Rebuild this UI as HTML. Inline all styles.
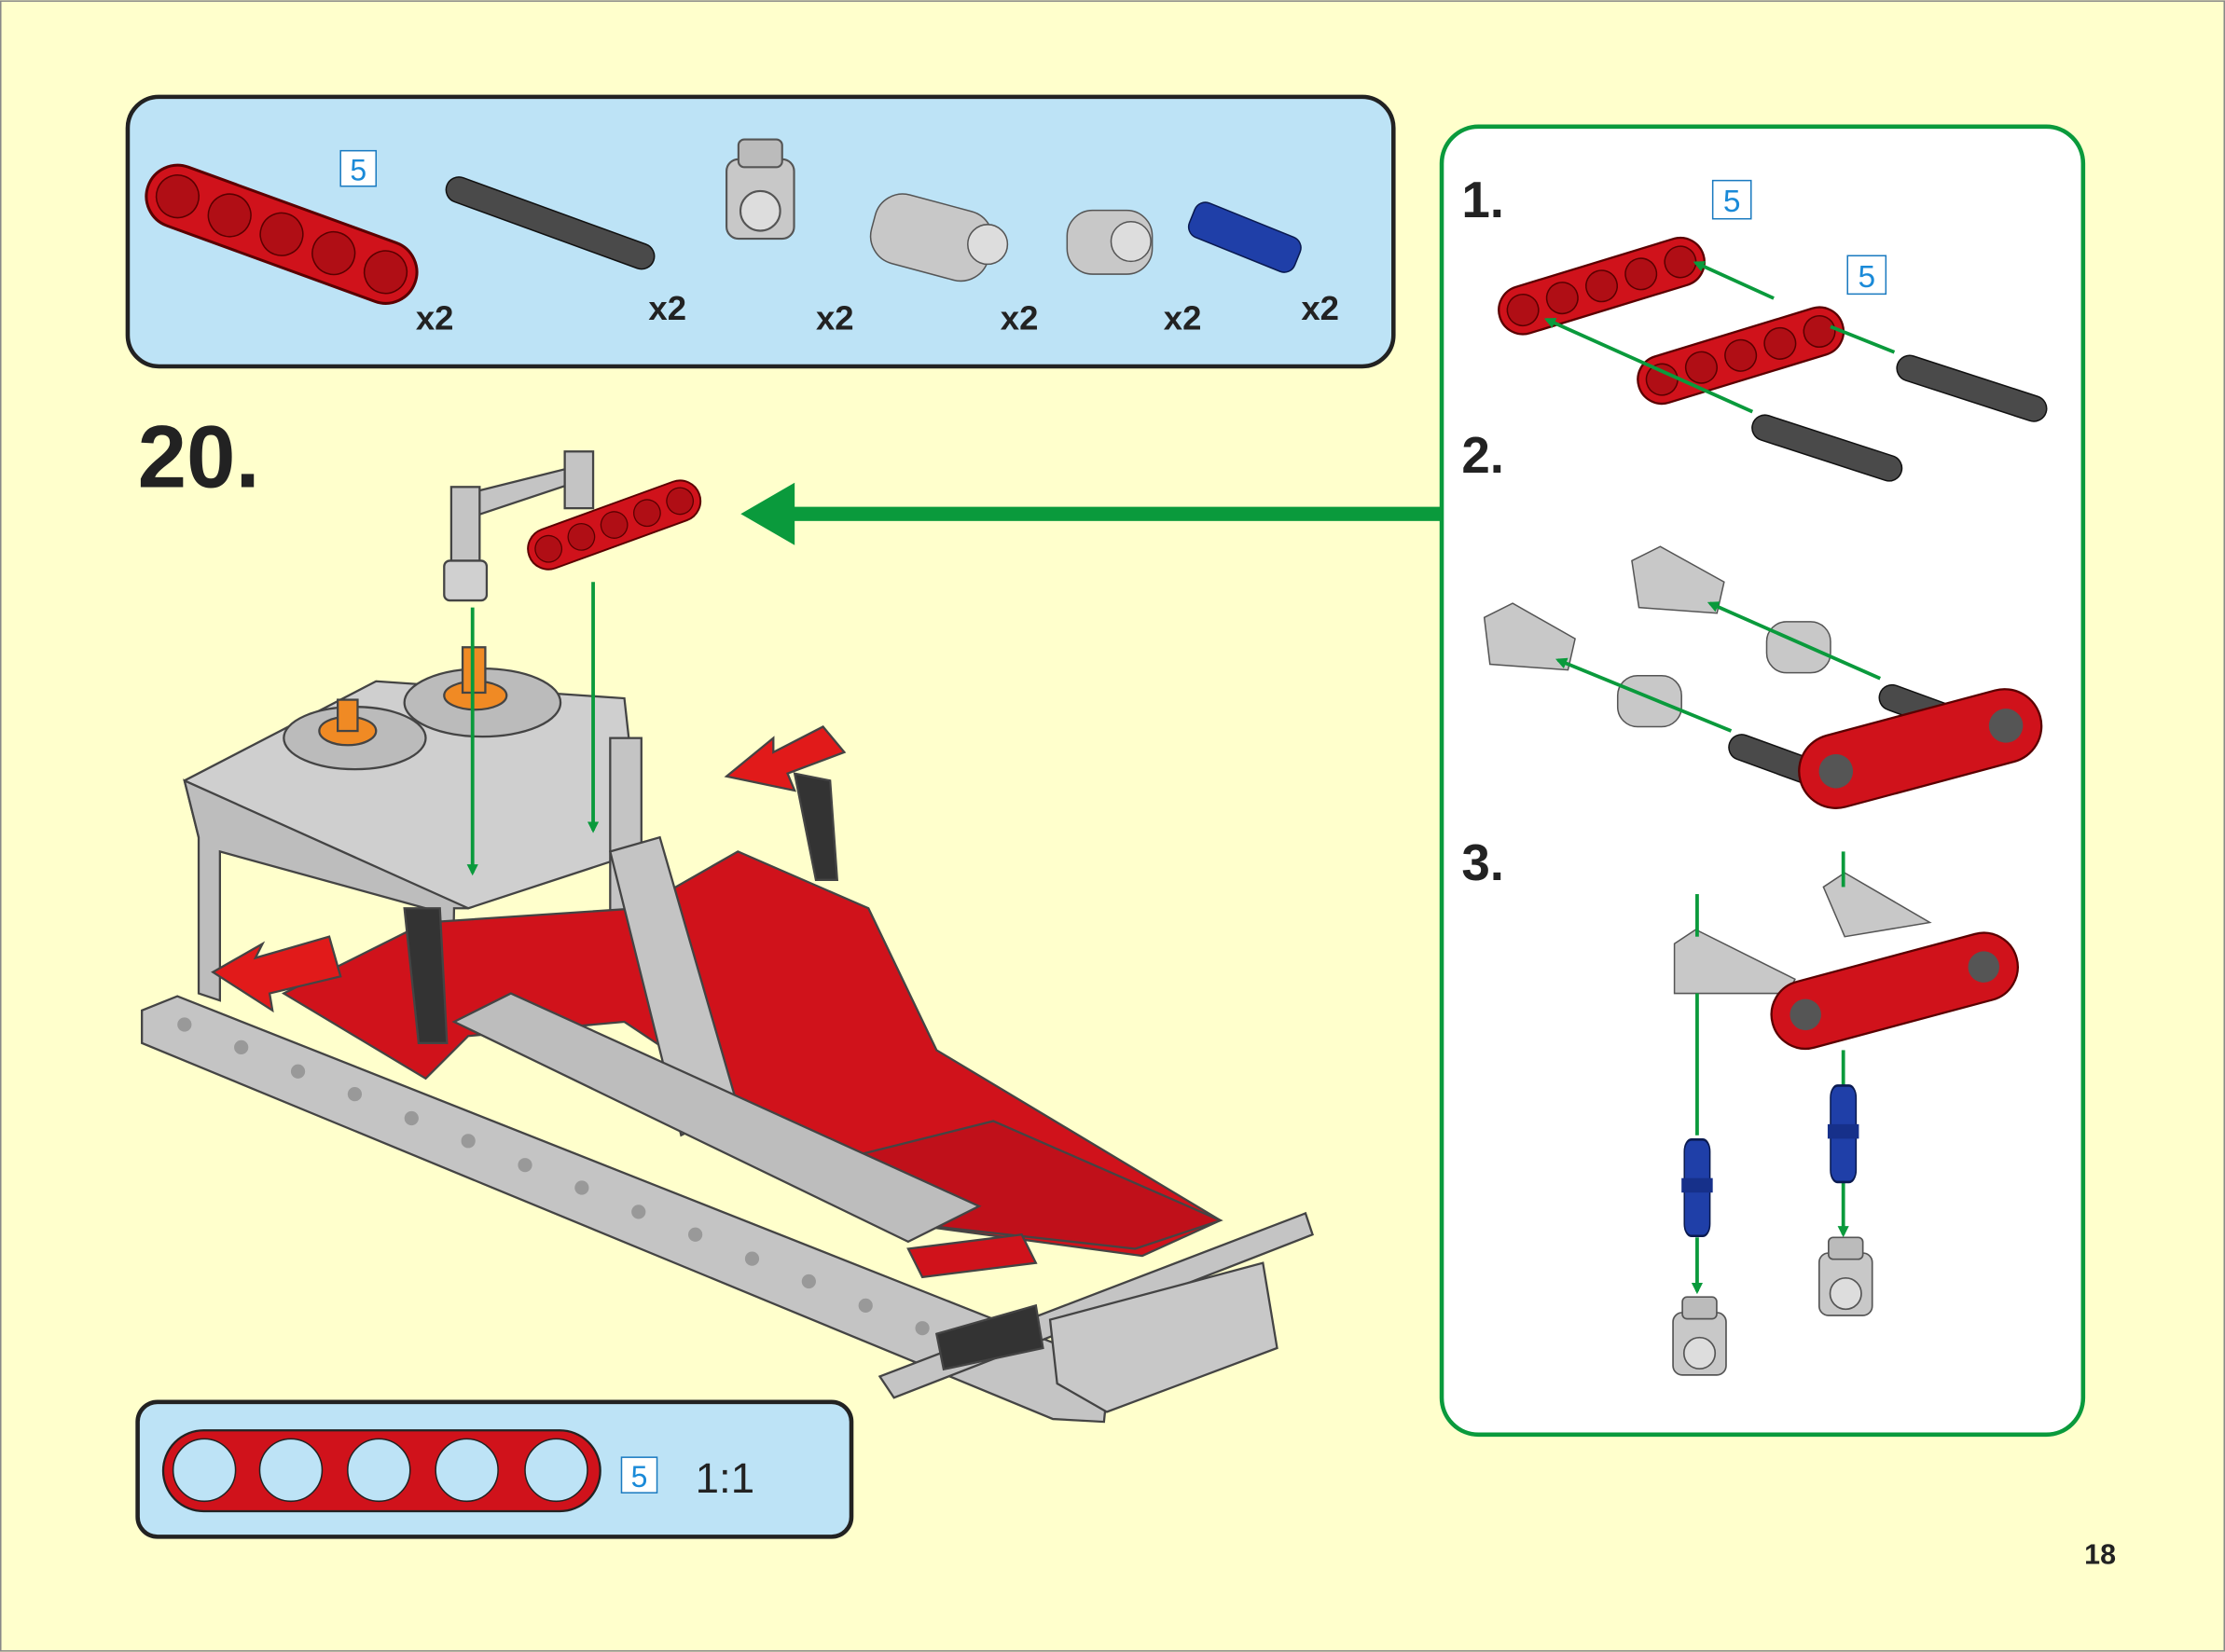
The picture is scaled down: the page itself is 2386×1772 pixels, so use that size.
<!DOCTYPE html>
<html><head><meta charset="utf-8"><style>
html,body{margin:0;padding:0;background:#FFFFCC;}
svg{display:block}
text{font-family:"Liberation Sans",Arial,sans-serif}
</style></head><body>
<svg width="2386" height="1772" viewBox="0 0 1568 1164" xmlns="http://www.w3.org/2000/svg">
<defs>
<marker id="ga" markerWidth="8" markerHeight="8" refX="6" refY="4" orient="auto" markerUnits="userSpaceOnUse"><path d="M0,0 L8,4 L0,8 z" fill="#0A9A3C"/></marker>
<g id="redbeam">
<rect x="0" y="0" width="150" height="34" rx="17" fill="#D0121B" stroke="#5a0000" stroke-width="1.5"/>
<g fill="#B00E15" stroke="#5a0000" stroke-width="1"><circle cx="17" cy="17" r="11"/><circle cx="46" cy="17" r="11"/><circle cx="75" cy="17" r="11"/><circle cx="104" cy="17" r="11"/><circle cx="133" cy="17" r="11"/></g>
</g>
<g id="pin"><rect x="0" y="0" width="18" height="40" rx="5" fill="#1F3FA8" stroke="#0a1a50"/><rect x="-2" y="16" width="22" height="6" fill="#16308a"/></g>
<g id="conn"><rect x="0" y="0" width="34" height="40" rx="6" fill="#C8C8C8" stroke="#555"/><circle cx="17" cy="26" r="10" fill="#ddd" stroke="#555"/><rect x="6" y="-10" width="22" height="14" rx="3" fill="#bbb" stroke="#555"/></g>
</defs>
<rect x="0.5" y="0.5" width="1567" height="1163" fill="#FFFFCC" stroke="#888" stroke-width="1"/>

<!-- Parts box -->
<rect x="90" y="68" width="892" height="190" rx="22" fill="#BDE3F6" stroke="#222" stroke-width="3"/>
<g transform="translate(112,110) rotate(20)"><rect x="0" y="0" width="200" height="44" rx="22" fill="#D0121B" stroke="#5a0000" stroke-width="2"/>
<g fill="#B00E15" stroke="#5a0000"><circle cx="22" cy="22" r="15"/><circle cx="61" cy="22" r="15"/><circle cx="100" cy="22" r="15"/><circle cx="139" cy="22" r="15"/><circle cx="178" cy="22" r="15"/></g></g>
<rect x="240" y="106" width="25" height="25" fill="#fff" stroke="#1a7ac0"/><text x="252.5" y="127" font-size="21" fill="#1a8ad8" text-anchor="middle">5</text>
<g transform="translate(318,122) rotate(20)"><rect x="0" y="0" width="155" height="18" rx="9" fill="#4A4A4A" stroke="#111"/></g>
<g transform="translate(512,112)"><use href="#conn" transform="scale(1.4)"/></g>
<g transform="translate(622,132)"><rect x="0" y="0" width="85" height="50" rx="20" fill="#C8C8C8" stroke="#555" transform="rotate(15)"/><circle cx="74" cy="40" r="14" fill="#ddd" stroke="#555"/></g>
<g transform="translate(752,148)"><rect x="0" y="0" width="60" height="45" rx="18" fill="#C8C8C8" stroke="#555"/><circle cx="45" cy="22" r="14" fill="#ddd" stroke="#555"/></g>
<g transform="translate(845,140) rotate(22)"><rect x="0" y="0" width="80" height="26" rx="8" fill="#1F3FA8" stroke="#0a1a50"/></g>
<g font-size="24" font-weight="bold" fill="#222">
<text x="293" y="232">x2</text><text x="457" y="225">x2</text><text x="575" y="232">x2</text><text x="705" y="232">x2</text><text x="820" y="232">x2</text><text x="917" y="225">x2</text></g>

<text x="97" y="343" font-size="62" font-weight="bold" fill="#222">20.</text>

<rect x="555" y="357" width="462" height="10" fill="#0A9A3C"/>
<path d="M522,362 L560,340 L560,384 z" fill="#0A9A3C"/>

<!-- Main model -->
<g stroke="#444" stroke-width="1.5">
<path d="M100,712 L125,702 L782,962 L778,1002 L742,1000 L100,735 z" fill="#C4C4C4"/>
<g fill="#999" stroke="none">
<circle cx="130" cy="722" r="5"/><circle cx="170" cy="738" r="5"/><circle cx="210" cy="755" r="5"/><circle cx="250" cy="771" r="5"/><circle cx="290" cy="788" r="5"/><circle cx="330" cy="804" r="5"/><circle cx="370" cy="821" r="5"/><circle cx="410" cy="837" r="5"/><circle cx="450" cy="854" r="5"/><circle cx="490" cy="870" r="5"/><circle cx="530" cy="887" r="5"/><circle cx="570" cy="903" r="5"/><circle cx="610" cy="920" r="5"/><circle cx="650" cy="936" r="5"/><circle cx="690" cy="953" r="5"/></g>
<path d="M130,550 L265,480 L440,492 L452,600 L330,640 L140,590 z" fill="#CFCFCF"/>
<path d="M130,550 L140,590 L140,700 L155,705 L155,600 L300,640 L300,740 L318,740 L320,640 L330,640 z" fill="#BDBDBD"/>
<rect x="430" y="520" width="22" height="170" fill="#C4C4C4"/>
<ellipse cx="250" cy="520" rx="50" ry="22" fill="#BBBBBB"/>
<ellipse cx="340" cy="495" rx="55" ry="24" fill="#BBBBBB"/>
<ellipse cx="245" cy="515" rx="20" ry="10" fill="#F08A24"/>
<ellipse cx="335" cy="490" rx="22" ry="10" fill="#F08A24"/>
<rect x="238" y="493" width="14" height="22" fill="#F08A24"/>
<rect x="326" y="456" width="16" height="32" fill="#F08A24"/>
<path d="M200,700 L300,650 L450,640 L520,600 L612,640 L660,740 L860,860 L805,885 L620,860 L560,800 L440,720 L330,730 L300,760 z" fill="#D0121B"/>
<path d="M580,820 L700,790 L860,860 L800,880 L620,860 z" fill="#C0101A"/>
<path d="M430,600 L465,590 L520,780 L480,800 z" fill="#C4C4C4"/>
<path d="M320,720 L360,700 L690,850 L640,875 z" fill="#BDBDBD"/>
<path d="M620,970 L920,855 L925,870 L630,985 z" fill="#C4C4C4"/>
<path d="M740,930 L890,890 L900,950 L780,995 L745,975 z" fill="#C8C8C8"/>
<path d="M640,880 L720,870 L730,890 L650,900 z" fill="#D0121B"/>
<path d="M660,940 L730,920 L735,950 L665,965 z" fill="#333"/>
<path d="M560,545 L585,550 L590,620 L575,620 z" fill="#333"/>
<path d="M285,640 L310,640 L315,735 L295,735 z" fill="#333"/>
<path d="M150,685 L185,665 L180,675 L232,660 L240,688 L190,700 L192,712 z" fill="#E11A1A"/>
<path d="M512,547 L545,520 L545,530 L580,512 L595,530 L555,545 L560,557 z" fill="#E11A1A"/>
</g>
<g stroke="#444" stroke-width="1.5">
<path d="M320,350 L400,330 L405,340 L330,365 z" fill="#C4C4C4"/>
<rect x="318" y="343" width="20" height="55" fill="#C4C4C4"/>
<rect x="398" y="318" width="20" height="40" fill="#C4C4C4"/>
<g transform="translate(368,378) rotate(-20)"><use href="#redbeam" transform="scale(0.85)"/></g>
<rect x="313" y="395" width="30" height="28" rx="4" fill="#D0D0D0"/>
</g>
<line x1="333" y1="428" x2="333" y2="615" stroke="#0A9A3C" stroke-width="2.5" marker-end="url(#ga)"/>
<line x1="418" y1="410" x2="418" y2="585" stroke="#0A9A3C" stroke-width="2.5" marker-end="url(#ga)"/>

<!-- Scale box -->
<rect x="97" y="988" width="503" height="95" rx="14" fill="#BDE3F6" stroke="#222" stroke-width="3"/>
<rect x="115" y="1008" width="308" height="57" rx="28.5" fill="#D0121B" stroke="#222" stroke-width="1.5"/>
<g fill="#BDE3F6" stroke="#222"><circle cx="144" cy="1036" r="22"/><circle cx="205" cy="1036" r="22"/><circle cx="267" cy="1036" r="22"/><circle cx="329" cy="1036" r="22"/><circle cx="392" cy="1036" r="22"/></g>
<rect x="438" y="1027" width="25" height="25" fill="#fff" stroke="#1a7ac0"/><text x="450.5" y="1048" font-size="21" fill="#1a8ad8" text-anchor="middle">5</text>
<text x="490" y="1052" font-size="30" fill="#222">1:1</text>

<!-- Right panel -->
<rect x="1016" y="89" width="452" height="922" rx="26" fill="#fff" stroke="#0A9A3C" stroke-width="3"/>
<g font-size="36" font-weight="bold" fill="#222"><text x="1030" y="153">1.</text><text x="1030" y="333">2.</text><text x="1030" y="620">3.</text></g>
<rect x="1207" y="127" width="27" height="27" fill="#fff" stroke="#1a7ac0"/><text x="1220.5" y="149" font-size="22" fill="#1a8ad8" text-anchor="middle">5</text>
<rect x="1302" y="180" width="27" height="27" fill="#fff" stroke="#1a7ac0"/><text x="1315.5" y="202" font-size="22" fill="#1a8ad8" text-anchor="middle">5</text>
<g transform="translate(1052,207) rotate(-17)"><use href="#redbeam"/></g>
<g transform="translate(1150,256) rotate(-17)"><use href="#redbeam"/></g>
<g transform="translate(1340,248) rotate(18)"><rect width="110" height="18" rx="9" fill="#4A4A4A" stroke="#111"/></g>
<g transform="translate(1238,290) rotate(18)"><rect width="110" height="18" rx="9" fill="#4A4A4A" stroke="#111"/></g>
<g stroke="#0A9A3C" stroke-width="2.5"><line x1="1250" y1="210" x2="1195" y2="185" marker-end="url(#ga)"/><line x1="1335" y1="248" x2="1290" y2="230"/><line x1="1235" y1="290" x2="1090" y2="225" marker-end="url(#ga)"/></g>
<g stroke="#555">
<path d="M1150,395 L1170,385 L1215,410 L1210,432 L1155,428 z" fill="#C8C8C8"/>
<path d="M1046,435 L1066,425 L1110,450 L1105,472 L1050,468 z" fill="#C8C8C8"/>
<rect x="1245" y="438" width="45" height="36" rx="14" fill="#C8C8C8"/>
<rect x="1140" y="476" width="45" height="36" rx="14" fill="#C8C8C8"/>
</g>
<g transform="translate(1328,480) rotate(20)"><rect width="70" height="18" rx="9" fill="#4A4A4A" stroke="#111"/></g>
<g transform="translate(1222,515) rotate(20)"><rect width="70" height="18" rx="9" fill="#4A4A4A" stroke="#111"/></g>
<g transform="translate(1262,525) rotate(-15)"><rect width="175" height="52" rx="26" fill="#D0121B" stroke="#5a0000" stroke-width="1.5"/><circle cx="26" cy="26" r="12" fill="#555"/><circle cx="150" cy="26" r="12" fill="#555"/></g>
<g stroke="#0A9A3C" stroke-width="2.5"><line x1="1325" y1="478" x2="1205" y2="425" marker-end="url(#ga)"/><line x1="1220" y1="515" x2="1098" y2="465" marker-end="url(#ga)"/></g>
<g stroke="#555">
<path d="M1180,665 L1195,655 L1265,690 L1260,700 L1180,700 z" fill="#C8C8C8"/>
<path d="M1285,625 L1300,615 L1360,650 L1300,660 z" fill="#C8C8C8"/>
</g>
<g transform="translate(1243,698) rotate(-15)"><rect width="178" height="48" rx="24" fill="#D0121B" stroke="#5a0000" stroke-width="1.5"/><circle cx="24" cy="24" r="11" fill="#555"/><circle cx="154" cy="24" r="11" fill="#555"/></g>
<g stroke="#0A9A3C" stroke-width="2.5">
<line x1="1196" y1="630" x2="1196" y2="660"/><line x1="1299" y1="600" x2="1299" y2="625"/>
<line x1="1196" y1="700" x2="1196" y2="800"/><line x1="1299" y1="740" x2="1299" y2="765"/>
<line x1="1196" y1="872" x2="1196" y2="910" marker-end="url(#ga)"/><line x1="1299" y1="832" x2="1299" y2="870" marker-end="url(#ga)"/></g>
<use href="#pin" transform="translate(1187,803) scale(1,1.7)"/>
<use href="#pin" transform="translate(1290,765) scale(1,1.7)"/>
<use href="#conn" transform="translate(1179,925) scale(1.1)"/>
<use href="#conn" transform="translate(1282,883) scale(1.1)"/>

<text x="1480" y="1102" font-size="20" font-weight="bold" fill="#222" text-anchor="middle">18</text>
</svg>
</body></html>
